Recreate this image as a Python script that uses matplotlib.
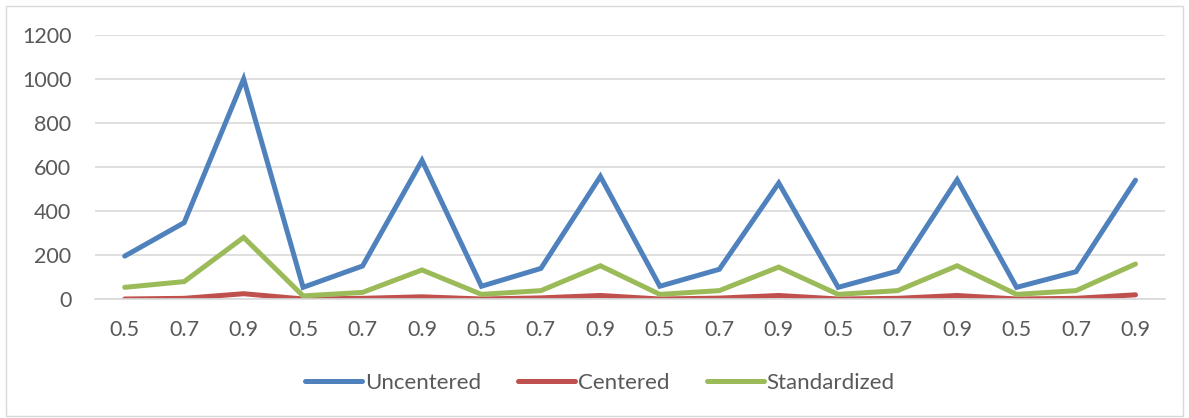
import matplotlib.pyplot as plt
from matplotlib.patches import Rectangle

plt.rcParams['font.family'] = ['Lato', 'DejaVu Sans']

# x-axis categories: threshold value repeated across six groups
categories = ['0.5', '0.7', '0.9'] * 6

uncentered = [195, 347, 1000, 53, 150, 630, 58, 139, 557, 58, 135, 527, 53, 127, 542, 53, 124, 540]
centered = [0, 3, 24, 0, 3, 10, 0, 5, 16, 0, 4, 16, 0, 3, 16, 0, 3, 19]
standardized = [53, 79, 280, 14, 30, 132, 21, 38, 151, 21, 38, 145, 21, 38, 151, 21, 38, 159]

series = [
    ('Uncentered', uncentered, '#4F81BD'),
    ('Centered', centered, '#C0504D'),
    ('Standardized', standardized, '#9BBB59'),
]

fig = plt.figure(figsize=(11.89, 4.18), dpi=100)
ax = fig.add_axes([0.0799, 0.2847, 0.9001, 0.6316])

x = list(range(len(categories)))
for name, vals, color in series:
    ax.plot(x, vals, color=color, lw=3.6, label=name, solid_joinstyle='miter',
            solid_capstyle='round')

ax.set_xlim(-0.5, len(categories) - 0.5)
ax.set_ylim(0, 1200)
ax.set_yticks(range(0, 1201, 200))
ax.set_xticks(x)
ax.set_xticklabels(categories)

ax.grid(axis='y', color='#D9D9D9', lw=1.2)
ax.set_axisbelow(True)
for side in ['left', 'right', 'top']:
    ax.spines[side].set_visible(False)
ax.spines['bottom'].set_color('#D9D9D9')
ax.spines['bottom'].set_linewidth(1.2)
ax.tick_params(axis='both', length=0, labelsize=15.5, labelcolor='#595959')
ax.tick_params(axis='y', pad=17)
ax.tick_params(axis='x', pad=15)

leg = fig.legend(loc='center', bbox_to_anchor=(600 / 1189, 1 - 383 / 418), ncol=3,
                 frameon=False, fontsize=16, handlelength=2.56,
                 handletextpad=0.14, columnspacing=1.66)
for t in leg.get_texts():
    t.set_color('#595959')
for h in leg.get_lines():
    h.set_solid_capstyle('round')

# light chart-area border
fig.patches.append(Rectangle((6 / 1189, 2 / 418), 1177 / 1189, 410 / 418,
                             transform=fig.transFigure, fill=False,
                             edgecolor='#D9D9D9', lw=1.0))

fig.savefig('out.png', dpi=100)
